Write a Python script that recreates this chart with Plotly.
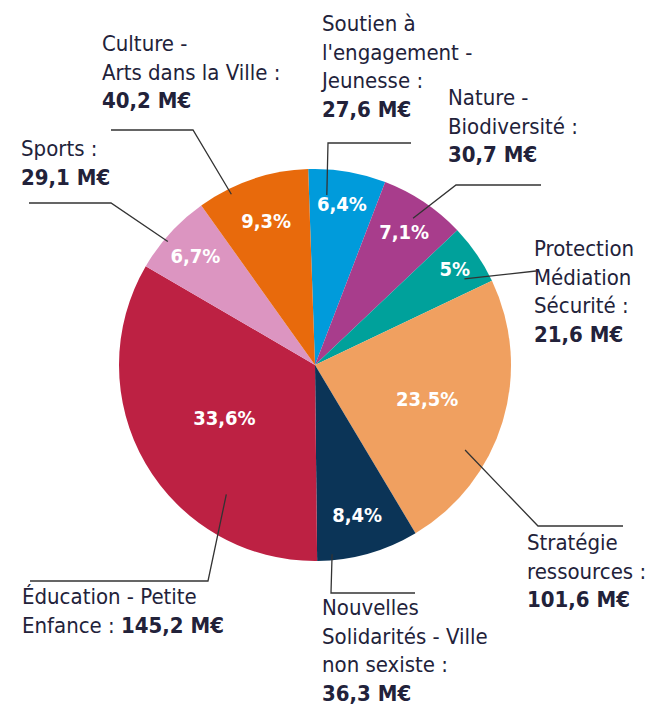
import math
import plotly.graph_objects as go

# ---------------- data ----------------
categories = [
    "Soutien à l'engagement - Jeunesse",
    "Nature - Biodiversité",
    "Protection Médiation Sécurité",
    "Stratégie ressources",
    "Nouvelles Solidarités - Ville non sexiste",
    "Éducation - Petite Enfance",
    "Sports",
    "Culture - Arts dans la Ville",
]
values_meur = [27.6, 30.7, 21.6, 101.6, 36.3, 145.2, 29.1, 40.2]
pct_text = ["6,4%", "7,1%", "5%", "23,5%", "8,4%", "33,6%", "6,7%", "9,3%"]
label_lines = [
    ["Soutien à", "l'engagement -", "Jeunesse :"],
    ["Nature -", "Biodiversité :"],
    ["Protection", "Médiation", "Sécurité :"],
    ["Stratégie", "ressources :"],
    ["Nouvelles", "Solidarités - Ville", "non sexiste :"],
    ["Éducation - Petite", "Enfance :"],
    ["Sports :"],
    ["Culture -", "Arts dans la Ville :"],
]
value_inline = [False, False, False, False, False, True, False, False]

# ---------------- style ----------------
colors = ["#009bdb", "#a83d8c", "#00a19b", "#f0a060", "#0b3457",
          "#bd2143", "#dc95c1", "#e86a0c"]
W, H = 656, 709
CX, CY, R = 307, 357, 196
ROT = -2
FONT = "Liberation Sans Narrow, DejaVu Sans Condensed, Arial Narrow, Liberation Sans, sans-serif"
TXT = "#22223a"

# label layout (pixels): text top-left, leader geometry
label_pos = [(310, 0.5), (438, 75.5), (524, 225.5), (517, 519.5),
             (312, 585), (12, 573.5), (11, 125.5), (92, 21.5)]
anchor_frac = [0.26, 0.5, 0.75, 0.65, 0.85, 0.29, 0.4, 0.28]
anchor_rad = [0.87, 0.9, 0.88, 0.88, 0.97, 0.8, 0.98, 0.97]
leader_pts = [
    [(320, 135), (403, 135)],
    [(448, 177), (533, 177)],
    [(528, 263)],
    [(530, 518), (615, 518)],
    [(323, 585), (407, 585)],
    [(200, 573), (22, 573)],
    [(103, 195), (21, 195)],
    [(185, 122), (103, 122)],
]


def px(x):
    return x / W


def py(y):
    return 1 - y / H


fig = go.Figure()
fig.add_trace(go.Pie(
    labels=categories,
    values=values_meur,
    text=pct_text,
    textinfo="text",
    textposition="inside",
    insidetextorientation="horizontal",
    textfont=dict(family=FONT, size=20, color="white", weight="bold"),
    marker=dict(colors=colors, line=dict(width=0)),
    sort=False,
    direction="clockwise",
    rotation=ROT,
    showlegend=False,
    hoverinfo="label+value+percent",
    domain=dict(x=[px(CX - R), px(CX + R)], y=[py(CY + R), py(CY - R)]),
))

total = sum(values_meur)
cum = 0.0
shapes = []
annotations = []
for i, v in enumerate(values_meur):
    ang = math.radians(ROT + 360 * (cum + anchor_frac[i] * v) / total)
    cum += v
    ax = CX + anchor_rad[i] * R * math.sin(ang)
    ay = CY - anchor_rad[i] * R * math.cos(ang)
    pts = [(ax, ay)] + leader_pts[i]
    path = "M " + " L ".join(f"{px(x):.5f},{py(y):.5f}" for x, y in pts)
    shapes.append(dict(type="path", path=path, xref="paper", yref="paper",
                       line=dict(color="#333333", width=1.3)))

    val = f"{v:.1f}".replace(".", ",") + " M€"
    lines = list(label_lines[i])
    if value_inline[i]:
        lines[-1] = lines[-1] + " <b>" + val + "</b>"
    else:
        lines.append("<b>" + val + "</b>")
    tx, ty = label_pos[i]
    annotations.append(dict(
        x=px(tx), y=py(ty), xref="paper", yref="paper",
        xanchor="left", yanchor="top", align="left",
        text="<br>".join(lines), showarrow=False,
        font=dict(family=FONT, size=22, color=TXT),
    ))

fig.update_layout(
    width=W, height=H,
    margin=dict(l=0, r=0, t=0, b=0),
    paper_bgcolor="white", plot_bgcolor="white",
    shapes=shapes, annotations=annotations,
    uniformtext=dict(minsize=18, mode="show"),
)
fig.write_html("out.html")
